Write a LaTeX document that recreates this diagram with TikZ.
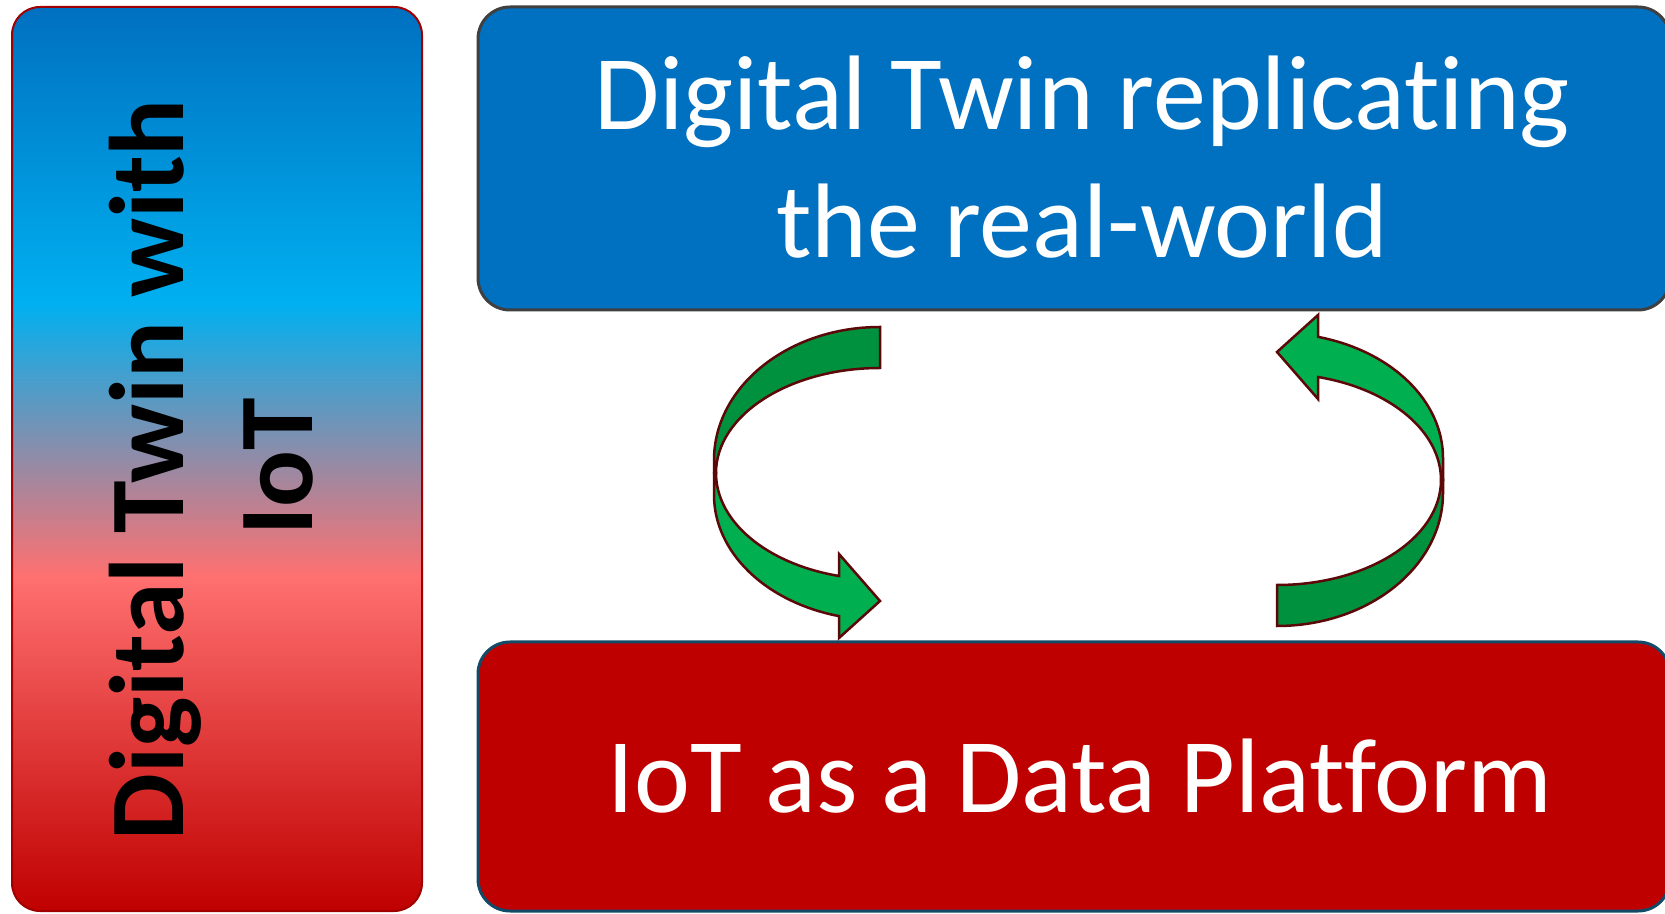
\documentclass[tikz,border=0pt]{standalone}
\usepackage{fontspec}
\setmainfont{Carlito}[Ligatures={NoCommon,NoRequired,NoContextual}]
\definecolor{gtop}{HTML}{0070C0}
\definecolor{glb}{HTML}{00B0F0}
\definecolor{gsal}{HTML}{FF7070}
\definecolor{gbot}{HTML}{C00000}
\definecolor{leftborder}{HTML}{A00000}
\definecolor{topblue}{HTML}{0070C0}
\definecolor{topborder}{HTML}{404040}
\definecolor{botred}{HTML}{BF0000}
\definecolor{botborder}{HTML}{124A68}
\definecolor{darkgreen}{HTML}{00913E}
\definecolor{lightgreen}{HTML}{00B050}
\definecolor{arrowline}{HTML}{5C0808}
\pgfdeclareverticalshading{lbar}{100bp}{color(0bp)=(gbot); color(25bp)=(gbot); color(43.5bp)=(gsal); color(58.6bp)=(glb); color(75bp)=(gtop); color(100bp)=(gtop)}
\tikzset{
  boxline/.style={line width=3pt},
  bandline/.style={draw=arrowline, line width=2.5pt, line join=miter},
  bigtext/.style={font=\fontsize{106}{128}\selectfont, text=white, inner sep=0pt, anchor=base},
  sidetext/.style={font=\fontsize{106}{128}\selectfont\bfseries, text=black, inner sep=0pt, anchor=base, rotate=90}
}
\newcommand\cyclearrowshape{%
  \path[bandline, fill=lightgreen] (714,440) -- (714,418)
    arc[start angle=180, end angle=255.7, x radius=166pt, y radius=125pt]
    -- (839,275) -- (880,312) -- (839,359) -- (839,337)
    arc[start angle=255.52, end angle=180, x radius=164pt, y radius=106.4pt] -- cycle;
  \path[bandline, fill=darkgreen] (880,586)
    arc[start angle=90, end angle=180, x radius=166pt, y radius=133pt]
    -- (714,440) -- (716,440)
    arc[start angle=180, end angle=90, x radius=164pt, y radius=105pt] -- cycle;
}
\begin{document}
\begin{tikzpicture}[x=1pt,y=1pt]
\useasboundingbox (0,0) rectangle (1665,913);
\fill[white] (0,0) rectangle (1665,913);
\begin{scope}
  \clip (0,0) rectangle (1665,913);
  \path[shade, shading=lbar, draw=leftborder, line width=2pt, rounded corners=28pt] (12,2) rectangle (422,906);
  \path[boxline, fill=topblue, draw=topborder, rounded corners=32pt] (478,603) rectangle (1670,906);
  \path[boxline, fill=botred, draw=botborder, rounded corners=32pt] (478,2) rectangle (1670,271);
  \cyclearrowshape
  \begin{scope}[rotate around={180:(1078.5,436.5)}]
    \cyclearrowshape
  \end{scope}
\end{scope}
\node[bigtext] (top1) at (1082,783) {Digital Twin replicating};
\node[bigtext] (top2) at (1082,655) {the real-world};
\node[bigtext] (bot1) at (1080,100) {IoT as a Data Platform};
\node[sidetext] (side1) at (183,443) {Digital Twin with};
\node[sidetext] (side2) at (312,446) {IoT};
\end{tikzpicture}
\end{document}
